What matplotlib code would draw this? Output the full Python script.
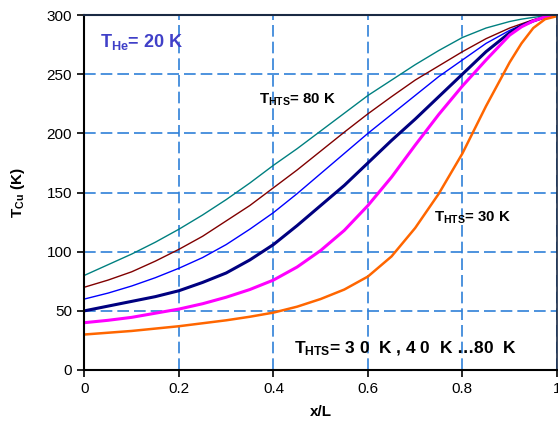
import numpy as np
import matplotlib
matplotlib.use("Agg")
import matplotlib.pyplot as plt

plt.rcParams["font.family"] = ["Liberation Sans", "DejaVu Sans"]
plt.rcParams["mathtext.fontset"] = "custom"
plt.rcParams["mathtext.rm"] = "Liberation Sans"
plt.rcParams["mathtext.bf"] = "Liberation Sans:bold"
plt.rcParams["mathtext.it"] = "Liberation Sans:italic"

# x/L positions
x_pos = [0.0, 0.05, 0.1, 0.15, 0.2, 0.25, 0.3, 0.35, 0.4, 0.45, 0.5,
         0.55, 0.6, 0.65, 0.7, 0.75, 0.8, 0.85, 0.9, 0.925, 0.95, 0.975, 1.0]

# T_Cu (K) for each T_HTS
t_80 = [80, 89, 98, 108, 119, 131, 144, 158, 173, 187, 202,
        217, 232, 245, 258, 270, 281, 289, 294.5, 296.5, 298, 299.3, 300]
t_70 = [70, 76, 83, 92, 102, 113, 126, 139, 154, 169, 185,
        201, 216.5, 231, 245, 257, 269, 280, 289, 292.5, 296, 298.5, 300]
t_60 = [60, 65, 71, 78, 86, 95, 106, 119, 133, 149, 166,
        183, 200, 216, 232, 248, 262, 276, 287, 291.5, 295, 298.3, 300]
t_50 = [50, 54, 58, 62, 67, 74, 82, 93, 106, 122, 139,
        156, 175, 194, 212, 231, 250, 269, 285, 291, 295, 298.3, 300]
t_40 = [40, 42, 44.5, 48, 51.5, 56, 61.5, 68, 76, 87, 101,
        118, 139, 163, 190, 216, 240, 262, 283, 290, 295, 298.5, 300]
t_30 = [30, 31.5, 33, 35, 37, 39.5, 42, 45, 48.5, 53.5, 60,
        68, 79, 96, 120, 149, 183, 223, 260, 276, 289, 296.5, 299]

series = [
    (t_80, "#008080", 1.0),
    (t_70, "#800000", 1.0),
    (t_60, "#0000FF", 1.0),
    (t_50, "#000080", 2.2),
    (t_40, "#FF00FF", 2.2),
    (t_30, "#FF6600", 1.8),
]

fig = plt.figure(figsize=(5.58, 4.23), dpi=100)
ax = fig.add_axes([0.1514, 0.1253, 0.8466, 0.8392])

for vals, col, lw in series:
    ax.plot(x_pos, vals, color=col, lw=lw, solid_capstyle="round",
            solid_joinstyle="round")

ax.set_xlim(0, 1)
ax.set_ylim(0, 300)
ax.set_xticks([0, 0.2, 0.4, 0.6, 0.8, 1.0])
ax.set_xticklabels(["0", "0.2", "0.4", "0.6", "0.8", "1"])
ax.set_yticks(range(0, 301, 50))

ax.grid(True, color="#2f80d8", lw=1.2, linestyle=(0, (7, 3)))
ax.set_axisbelow(True)

for s in ["left", "bottom"]:
    ax.spines[s].set_linewidth(1.5)
    ax.spines[s].set_color("black")
ax.spines["top"].set_color("#1a2a44")
ax.spines["top"].set_linewidth(1.5)
ax.spines["right"].set_color("#1a2a44")
ax.spines["right"].set_linewidth(1.2)

ax.tick_params(direction="out", length=5, width=1.2, labelsize=11,
               colors="black", pad=4)

ax.set_xlabel("x/L", fontsize=11, fontweight="bold", labelpad=6)
ax.set_ylabel(r"$\mathbf{T_{Cu}}$ (K)", fontsize=11, fontweight="bold",
              labelpad=14)

ax.text(0.033, 0.925, r"$\mathbf{T_{He}}$= 20 K", transform=ax.transAxes,
        fontsize=13, fontweight="bold", color="#4040C8", va="center")
ax.text(0.369, 0.76, r"$\mathbf{T_{HTS}}$= 80 K", transform=ax.transAxes,
        fontsize=10.8, fontweight="bold", color="black", va="center")
ax.text(0.740, 0.428, r"$\mathbf{T_{HTS}}$= 30 K", transform=ax.transAxes,
        fontsize=10.8, fontweight="bold", color="black", va="center")
ax.text(0.444, 0.059, r"$\mathbf{T_{HTS}}$= 3 0  K , 4 0  K …80  K",
        transform=ax.transAxes, fontsize=12.5, fontweight="bold",
        color="black", va="center")

fig.savefig("out.png", dpi=100)
